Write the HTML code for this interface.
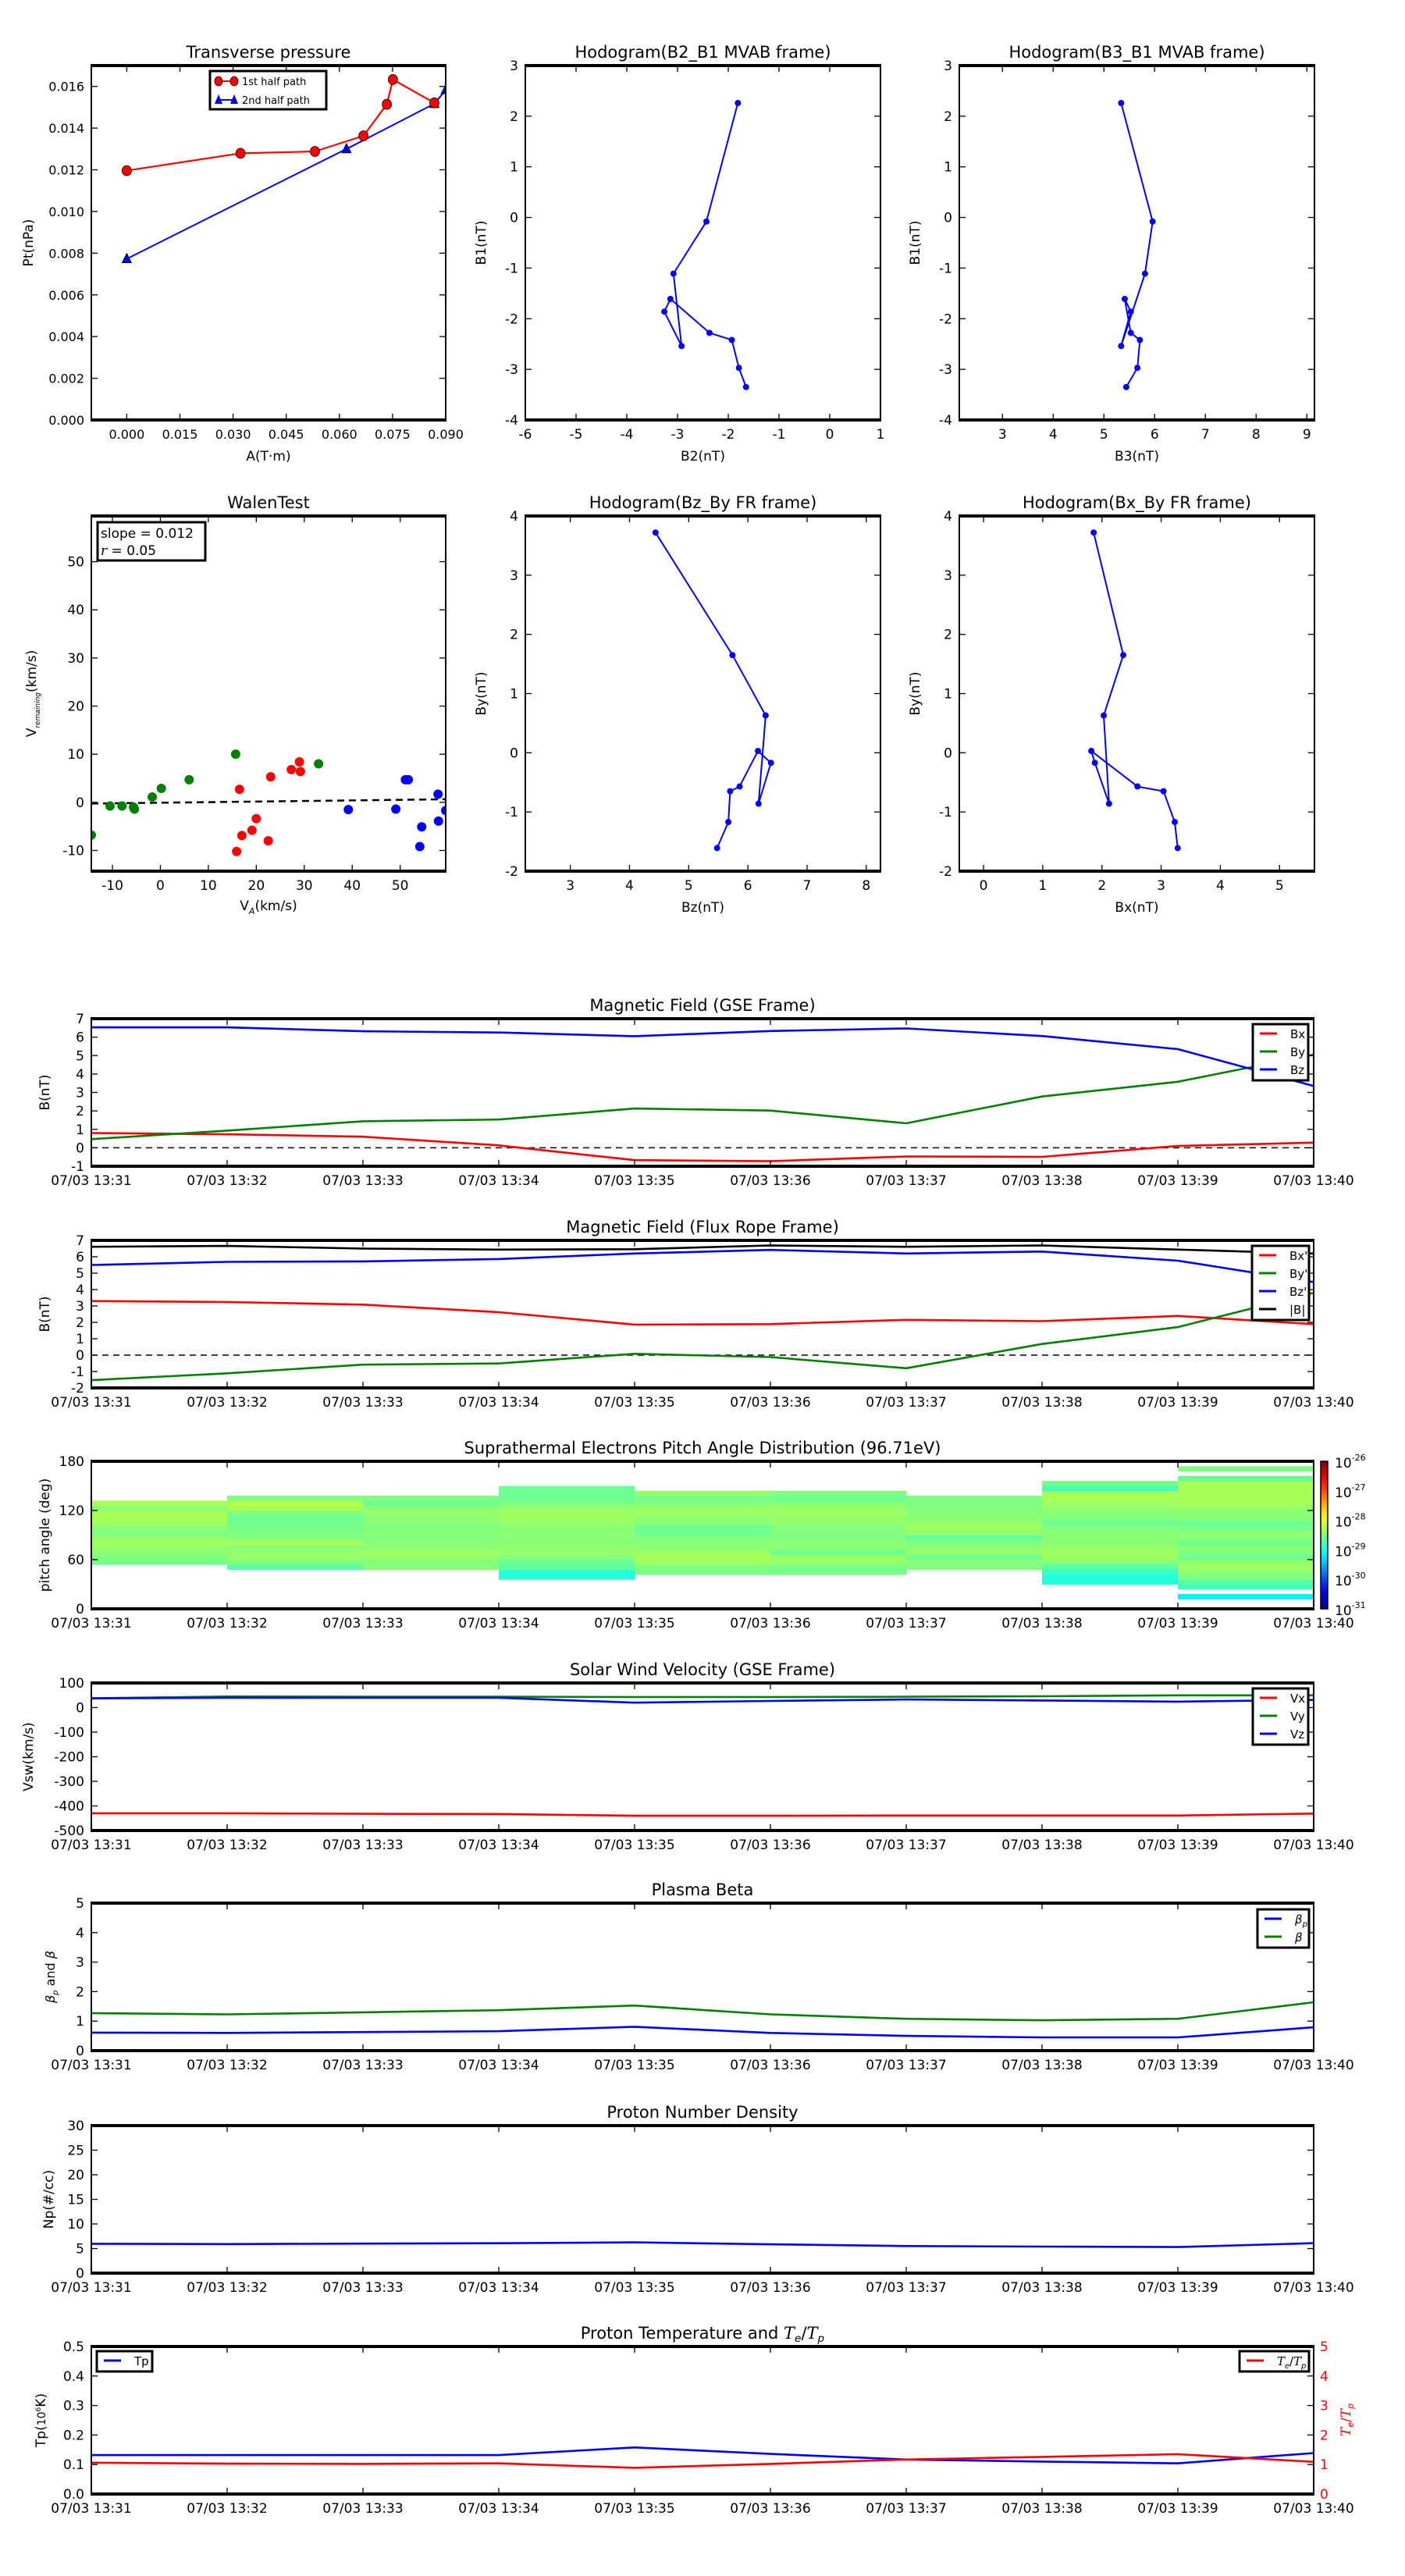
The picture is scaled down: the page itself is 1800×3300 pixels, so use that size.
<!DOCTYPE html>
<html><head><meta charset="utf-8"><title>Flux rope analysis</title>
<style>
html,body{margin:0;padding:0;background:#fff;}
svg{display:block;font-family:"DejaVu Sans","Liberation Sans",sans-serif;}
</style></head>
<body>
<svg id="chart" xmlns="http://www.w3.org/2000/svg" width="1800" height="3300" viewBox="0 0 1800 3300">
<rect x="0" y="0" width="1800" height="3300" fill="#ffffff"/>
</svg>
<script>
// ---------- data ----------
const ptRedA = [0.0, 0.0321, 0.0531, 0.0668, 0.0734, 0.0751, 0.0868];
const ptRedP = [0.01196, 0.01279, 0.01288, 0.01363, 0.01514, 0.01633, 0.01521];
const ptBlueA = [0.0, 0.0620, 0.0868, 0.0900];
const ptBlueP = [0.00773, 0.0130, 0.01517, 0.01583];

const mvB1 = [2.26, -0.08, -1.11, -2.54, -1.86, -1.61, -2.28, -2.42, -2.97, -3.35];
const mvB2 = [-1.81, -2.43, -3.08, -2.92, -3.26, -3.14, -2.37, -1.93, -1.79, -1.65];
const mvB3 = [5.34, 5.96, 5.81, 5.34, 5.53, 5.41, 5.53, 5.71, 5.66, 5.44];

const walenGreenX = [-14.4, -10.5, -8.0, -5.4, -5.6, -1.7, 0.2, 6.0, 15.7, 33.0];
const walenGreenY = [-6.8, -0.75, -0.75, -1.4, -1.0, 1.1, 2.9, 4.7, 10.0, 8.0];
const walenRedX = [16.5, 15.9, 17.0, 19.1, 20.0, 22.5, 23.0, 27.3, 29.0, 29.2];
const walenRedY = [2.7, -10.2, -6.9, -5.8, -3.4, -8.0, 5.3, 6.8, 8.4, 6.4];
const walenBlueX = [39.2, 49.1, 51.1, 51.7, 54.5, 54.1, 57.9, 58.0, 59.5];
const walenBlueY = [-1.5, -1.4, 4.7, 4.7, -5.1, -9.2, 1.7, -3.9, -1.7];
const walenSlope = 0.012;
const walenIntercept = -0.08;

const frBy = [3.72, 1.65, 0.63, -0.86, -0.17, 0.03, -0.57, -0.65, -1.17, -1.61];
const frBz = [4.44, 5.74, 6.30, 6.18, 6.39, 6.17, 5.86, 5.70, 5.67, 5.48];
const frBx = [1.86, 2.36, 2.03, 2.12, 1.88, 1.82, 2.60, 3.04, 3.23, 3.28];

const timeLabels = ['07/03 13:31','07/03 13:32','07/03 13:33','07/03 13:34','07/03 13:35','07/03 13:36','07/03 13:37','07/03 13:38','07/03 13:39','07/03 13:40'];
const gseBx = [0.80, 0.73, 0.60, 0.13, -0.67, -0.73, -0.47, -0.49, 0.10, 0.28];
const gseBy = [0.47, 0.93, 1.44, 1.53, 2.13, 2.02, 1.33, 2.78, 3.58, 5.05];
const gseBz = [6.53, 6.53, 6.32, 6.25, 6.05, 6.33, 6.47, 6.06, 5.35, 3.35];
const frpBx = [3.30, 3.24, 3.08, 2.62, 1.86, 1.89, 2.15, 2.07, 2.39, 1.89];
const frpBy = [-1.53, -1.11, -0.58, -0.51, 0.08, -0.12, -0.80, 0.68, 1.71, 3.80];
const frpBz = [5.50, 5.69, 5.72, 5.86, 6.20, 6.42, 6.20, 6.32, 5.76, 4.45];
const frpBt = [6.61, 6.66, 6.50, 6.44, 6.46, 6.69, 6.61, 6.69, 6.44, 6.20];

const padStartBin = [9, 8, 8, 6, 7, 7, 8, 5, 2];
const padCol1 = [-28.55,-28.5,-28.45,-28.4,-28.35,-28.4,-28.5,-28.45,-28.35,-28.3,-28.3,-28.45,-28.3];
const padCol2 = [-28.7,-28.5,-28.4,-28.4,-28.45,-28.3,-28.5,-28.5,-28.55,-28.55,-28.6,-28.5,-28.3,-28.25,-28.5];
const padCol3 = [-28.45,-28.5,-28.4,-28.35,-28.45,-28.45,-28.5,-28.45,-28.5,-28.45,-28.45,-28.4,-28.45,-28.6,-28.5];
const padCol4 = [-28.95,-28.95,-28.65,-28.6,-28.5,-28.4,-28.4,-28.45,-28.45,-28.45,-28.45,-28.4,-28.35,-28.35,-28.4,-28.5,-28.6,-28.6,-28.6];
const padCol5 = [-28.55,-28.5,-28.35,-28.3,-28.35,-28.45,-28.45,-28.5,-28.6,-28.6,-28.45,-28.45,-28.35,-28.4,-28.5,-28.55,-28.4];
const padCol6 = [-28.55,-28.55,-28.4,-28.35,-28.6,-28.45,-28.45,-28.5,-28.5,-28.5,-28.4,-28.4,-28.35,-28.4,-28.45,-28.6,-28.5];
const padCol7 = [-28.5,-28.45,-28.6,-28.4,-28.45,-28.5,-28.65,-28.4,-28.35,-28.4,-28.45,-28.45,-28.5,-28.5,-28.5];
const padCol8 = [-28.95,-28.95,-28.85,-28.7,-28.5,-28.35,-28.35,-28.4,-28.45,-28.45,-28.45,-28.5,-28.6,-28.5,-28.45,-28.4,-28.35,-28.3,-28.3,-28.8,-28.55];
const padCol9 = [-29.2,null,-28.8,-28.7,-28.5,-28.45,-28.35,-28.4,-28.6,-28.5,-28.45,-28.6,-28.45,-28.45,-28.55,-28.6,-28.45,-28.45,-28.4,-28.3,-28.3,-28.3,-28.3,-28.3,-28.6,null,-28.5];
const padBinDeg = 6;
const padCbLabels = ['-26','-27','-28','-29','-30','-31'];

const vswVx = [-430, -430, -432, -433, -440, -440, -439, -439, -439, -431];
const vswVy = [38, 45, 44, 44, 43, 43, 44, 46, 50, 50];
const vswVz = [37, 40, 40, 40, 20, 27, 33, 29, 24, 31];
const betaP = [0.61, 0.60, 0.63, 0.66, 0.81, 0.60, 0.50, 0.45, 0.45, 0.79];
const betaT = [1.27, 1.23, 1.30, 1.37, 1.53, 1.23, 1.08, 1.03, 1.08, 1.64];
const npVals = [5.97, 5.9, 6.0, 6.08, 6.25, 5.85, 5.5, 5.4, 5.3, 6.1];
const tpVals = [0.132, 0.132, 0.132, 0.132, 0.158, 0.136, 0.117, 0.110, 0.104, 0.139];
const teTpVals = [1.06, 1.03, 1.02, 1.04, 0.89, 1.02, 1.17, 1.26, 1.35, 1.09];

// ---------- helpers ----------
const NS = 'http://www.w3.org/2000/svg';
const svg = document.getElementById('chart');
let clipCount = 0;
function mk(tag, attrs, name, parent) {
  const e = document.createElementNS(NS, tag);
  for (const k in attrs) e.setAttribute(k, attrs[k]);
  
  
  (parent || svg).appendChild(e);
  return e;
}
function txt(x, y, s, size, anchor, name, parent, extra) {
  const a = {x: x, y: y, 'font-size': size, 'text-anchor': anchor || 'middle', fill: '#000'};
  if (extra) for (const k in extra) a[k] = extra[k];
  const t = mk('text', a, name, parent);
  t.textContent = s;
  return t;
}
function span(parent, s, attrs, name) {
  const e = document.createElementNS(NS, 'tspan');
  for (const k in attrs) e.setAttribute(k, attrs[k]);
  e.textContent = s;
  
  
  parent.appendChild(e);
  return e;
}
// italic "T_e/T_p"
function teTp(t, size) {
  span(t, 'T', {'font-style': 'italic', 'font-family': 'DejaVu Serif, Liberation Serif, serif'}, 'math-t');
  span(t, 'e', {'font-style': 'italic', 'font-size': size * 0.65, dy: 4}, 'math-sub-e');
  span(t, '/', {dy: -4}, 'math-slash');
  span(t, 'T', {'font-style': 'italic', 'font-family': 'DejaVu Serif, Liberation Serif, serif'}, 'math-t');
  span(t, 'p', {'font-style': 'italic', 'font-size': size * 0.65, dy: 4}, 'math-sub-p');
}
function pts(xs, ys, sx, sy) {
  return xs.map((v, i) => sx(v).toFixed(1) + ',' + sy(ys[i]).toFixed(1)).join(' ');
}
function axes(o) {
  const g = mk('g', {}, o.name);
  const sx = v => o.x + (v - o.xmin) / (o.xmax - o.xmin) * o.w;
  const sy = v => o.y + o.h - (v - o.ymin) / (o.ymax - o.ymin) * o.h;
  mk('rect', {x: o.x, y: o.y, width: o.w, height: o.h, fill: '#fff'}, o.name + '-plot-area', g);
  const cid = 'clip' + (clipCount++);
  const cp = mk('clipPath', {id: cid}, o.name + '-clip', g);
  mk('rect', {x: o.x, y: o.y, width: o.w, height: o.h}, o.name + '-clip-rect', cp);
  const data = mk('g', {'clip-path': 'url(#' + cid + ')'}, o.name + '-data', g);
  const fr = mk('g', {}, o.name + '-axes', g);
  const B = o.y + o.h;
  o.xticks.forEach((t, i) => {
    const X = sx(t);
    mk('line', {x1: X, y1: B, x2: X, y2: B - 8, stroke: '#000', 'stroke-width': 1.3}, 'x-tick', fr);
    mk('line', {x1: X, y1: o.y, x2: X, y2: o.y + 8, stroke: '#000', 'stroke-width': 1.3}, 'x-tick-top', fr);
    txt(X, B + 24, o.xlabels[i], o.tickSize || 17, 'middle', 'x-tick-label', fr);
  });
  o.yticks.forEach((t, i) => {
    const Y = sy(t);
    mk('line', {x1: o.x, y1: Y, x2: o.x + 8, y2: Y, stroke: '#000', 'stroke-width': 1.3}, 'y-tick', fr);
    if (!o.noRightTicks) mk('line', {x1: o.x + o.w, y1: Y, x2: o.x + o.w - 8, y2: Y, stroke: '#000', 'stroke-width': 1.3}, 'y-tick-right', fr);
    txt(o.x - 9, Y + 6, o.ylabels[i], o.tickSize || 17, 'end', 'y-tick-label', fr);
  });
  mk('line', {x1: o.x, y1: o.y, x2: o.x, y2: B, stroke: '#000', 'stroke-width': 2}, 'left-spine', fr);
  mk('line', {x1: o.x + o.w, y1: o.y, x2: o.x + o.w, y2: B, stroke: '#000', 'stroke-width': 2}, 'right-spine', fr);
  mk('line', {x1: o.x - 1, y1: o.y, x2: o.x + o.w + 1, y2: o.y, stroke: '#000', 'stroke-width': 4}, 'top-spine', fr);
  mk('line', {x1: o.x - 1, y1: B, x2: o.x + o.w + 1, y2: B, stroke: '#000', 'stroke-width': 4}, 'bottom-spine', fr);
  if (o.title) txt(o.x + o.w / 2, o.y - 10, o.title, 21, 'middle', 'chart-title', g);
  if (o.xlabel) txt(o.x + o.w / 2, B + 52, o.xlabel, 17, 'middle', 'x-axis-title', g);
  if (o.ylabel) txt(o.ylabelX, o.y + o.h / 2, o.ylabel, 17, 'middle', 'y-axis-title', g, {transform: 'rotate(-90 ' + o.ylabelX + ' ' + (o.y + o.h / 2) + ')'});
  return {sx, sy, data, g, fr};
}
function range(a, b, s) { const r = []; for (let v = a; v <= b + 1e-9; v += s) r.push(+v.toFixed(6)); return r; }
function legend(x, y, w, entries, parent, name) {
  const h = 12 + 23 * (entries.length - 1) + 14;
  mk('rect', {x: x, y: y, width: w, height: h, fill: '#fff', stroke: '#000', 'stroke-width': 3}, name, parent);
  entries.forEach((e, i) => {
    const cy = y + 12 + i * 23;
    mk('line', {x1: x + 9, y1: cy, x2: x + 31, y2: cy, stroke: e.color, 'stroke-width': 3}, 'legend-swatch', parent);
    const t = txt(x + 48, cy + 6, e.label, 15, 'start', 'legend-entry', parent);
    if (e.math === 'tetp') { t.textContent = ''; teTp(t, 15); }
    if (e.math === 'betap') { t.textContent = ''; span(t, 'β', {'font-style': 'italic'}, 'math-beta'); span(t, 'p', {'font-style': 'italic', 'font-size': 10, dy: 4}, 'math-sub-p'); }
    if (e.math === 'beta') { t.setAttribute('font-style', 'italic'); }
  });
}
function series(ax, xs, ys, color, name, width) {
  mk('polyline', {points: pts(xs, ys, ax.sx, ax.sy), fill: 'none', stroke: color, 'stroke-width': width || 2.6, 'stroke-linejoin': 'round'}, name, ax.data);
}
function dots(ax, xs, ys, color, r, name) {
  xs.forEach((v, i) => mk('circle', {cx: ax.sx(v), cy: ax.sy(ys[i]), r: r, fill: color, stroke: color}, name, ax.data));
}

// ---------- row 1 ----------
const R1Y = 84, R1H = 454, R2Y = 661, R2H = 455;
const ptAx = axes({name: 'transverse-pressure-chart', x: 117, y: R1Y, w: 454, h: R1H, xmin: -0.01, xmax: 0.09, ymin: 0, ymax: 0.017,
  xticks: range(0, 0.09, 0.015), xlabels: range(0, 0.09, 0.015).map(v => v.toFixed(3)),
  yticks: range(0, 0.016, 0.002), ylabels: range(0, 0.016, 0.002).map(v => v.toFixed(3)),
  title: 'Transverse pressure', xlabel: 'A(T·m)', ylabel: 'Pt(nPa)', ylabelX: 42, tickSize: 16});
series(ptAx, ptRedA, ptRedP, '#ff0000', 'first-half-path-line', 2.2);
series(ptAx, ptBlueA, ptBlueP, '#0000ff', 'second-half-path-line', 2);
ptBlueA.forEach((v, i) => {
  const X = ptAx.sx(v), Y = ptAx.sy(ptBlueP[i]);
  mk('polygon', {points: (X) + ',' + (Y - 7) + ' ' + (X - 6) + ',' + (Y + 5) + ' ' + (X + 6) + ',' + (Y + 5), fill: '#0000ff', stroke: '#000', 'stroke-width': 0.8}, 'second-half-marker', ptAx.data);
});
ptRedA.forEach((v, i) => mk('ellipse', {cx: ptAx.sx(v), cy: ptAx.sy(ptRedP[i]), rx: 6, ry: 6.5, fill: '#ff0000', stroke: '#000', 'stroke-width': 0.8}, 'first-half-marker', ptAx.data));
(function () {
  const L = mk('g', {}, 'pressure-legend', ptAx.g);
  mk('rect', {x: 269, y: 91, width: 149, height: 49, fill: '#fff', stroke: '#000', 'stroke-width': 3}, 'legend-box', L);
  mk('line', {x1: 280, y1: 104, x2: 300, y2: 104, stroke: '#f00', 'stroke-width': 2}, 'legend-swatch', L);
  mk('ellipse', {cx: 280, cy: 104, rx: 5, ry: 6, fill: '#f00', stroke: '#000', 'stroke-width': 0.8}, 'legend-marker', L);
  mk('ellipse', {cx: 300, cy: 104, rx: 5, ry: 6, fill: '#f00', stroke: '#000', 'stroke-width': 0.8}, 'legend-marker', L);
  txt(310, 109, '1st half path', 13, 'start', 'legend-entry', L);
  mk('line', {x1: 280, y1: 128, x2: 300, y2: 128, stroke: '#00f', 'stroke-width': 2}, 'legend-swatch', L);
  mk('polygon', {points: '280,121 275,133 285,133', fill: '#00f'}, 'legend-marker', L);
  mk('polygon', {points: '300,121 295,133 305,133', fill: '#00f'}, 'legend-marker', L);
  txt(310, 133, '2nd half path', 13, 'start', 'legend-entry', L);
})();

const h1 = axes({name: 'hodogram-b2-b1-chart', x: 673, y: R1Y, w: 455, h: R1H, xmin: -6, xmax: 1, ymin: -4, ymax: 3,
  xticks: range(-6, 1, 1), xlabels: range(-6, 1, 1).map(String), yticks: range(-4, 3, 1), ylabels: range(-4, 3, 1).map(String),
  title: 'Hodogram(B2_B1 MVAB frame)', xlabel: 'B2(nT)', ylabel: 'B1(nT)', ylabelX: 622});
series(h1, mvB2, mvB1, '#0000ff', 'hodogram-b2-b1-line', 2);
dots(h1, mvB2, mvB1, '#0000ff', 3.5, 'hodogram-b2-b1-point');

const h2 = axes({name: 'hodogram-b3-b1-chart', x: 1229, y: R1Y, w: 455, h: R1H, xmin: 2.15, xmax: 9.15, ymin: -4, ymax: 3,
  xticks: range(3, 9, 1), xlabels: range(3, 9, 1).map(String), yticks: range(-4, 3, 1), ylabels: range(-4, 3, 1).map(String),
  title: 'Hodogram(B3_B1 MVAB frame)', xlabel: 'B3(nT)', ylabel: 'B1(nT)', ylabelX: 1178});
series(h2, mvB3, mvB1, '#0000ff', 'hodogram-b3-b1-line', 2);
dots(h2, mvB3, mvB1, '#0000ff', 3.5, 'hodogram-b3-b1-point');

// ---------- row 2 ----------
const wl = axes({name: 'walen-test-chart', x: 117, y: R2Y, w: 454, h: R2H, xmin: -14.4, xmax: 59.5, ymin: -14.3, ymax: 59.5,
  xticks: range(-10, 50, 10), xlabels: range(-10, 50, 10).map(String), yticks: range(-10, 50, 10), ylabels: range(-10, 50, 10).map(String),
  title: 'WalenTest', ylabelX: 46});
(function () {
  const t = txt(344, R2Y + R2H + 50, '', 17, 'middle', 'x-axis-title', wl.g);
  span(t, 'V', {}, 'x-title-v');
  span(t, 'A', {'font-size': 11, 'font-style': 'italic', dy: 5}, 'x-title-subscript');
  span(t, '(km/s)', {dy: -5}, 'x-title-unit');
  const cy = R2Y + R2H / 2;
  const yl = txt(46, cy, '', 17, 'middle', 'y-axis-title', wl.g, {transform: 'rotate(-90 46 ' + cy + ')'});
  span(yl, 'V', {}, 'y-title-v');
  span(yl, 'remaining', {'font-size': 9, 'font-style': 'italic', dy: 5}, 'y-title-subscript');
  span(yl, '(km/s)', {dy: -5}, 'y-title-unit');
})();
mk('line', {x1: wl.sx(-14.4), y1: wl.sy(walenSlope * -14.4 + walenIntercept), x2: wl.sx(59.5), y2: wl.sy(walenSlope * 59.5 + walenIntercept), stroke: '#000', 'stroke-width': 2.5, 'stroke-dasharray': '9,6'}, 'walen-fit-line', wl.data);
dots(wl, walenGreenX, walenGreenY, '#008000', 5.5, 'walen-green-point');
dots(wl, walenRedX, walenRedY, '#ff0000', 5.5, 'walen-red-point');
dots(wl, walenBlueX, walenBlueY, '#0000ff', 5.5, 'walen-blue-point');
mk('rect', {x: 125, y: 669, width: 138, height: 49, fill: '#fff', stroke: '#000', 'stroke-width': 3}, 'walen-stats-box', wl.g);
txt(129, 689, 'slope = ' + walenSlope.toFixed(3), 17, 'start', 'walen-slope-text', wl.g);
(function () {
  const t = txt(129, 711, '', 17, 'start', 'walen-r-text', wl.g);
  span(t, 'r', {'font-style': 'italic', 'font-family': 'DejaVu Serif, serif'}, 'r-symbol');
  span(t, ' = 0.05', {}, 'r-value');
})();

const h3 = axes({name: 'hodogram-bz-by-chart', x: 673, y: R2Y, w: 455, h: R2H, xmin: 2.24, xmax: 8.24, ymin: -2, ymax: 4,
  xticks: range(3, 8, 1), xlabels: range(3, 8, 1).map(String), yticks: range(-2, 4, 1), ylabels: range(-2, 4, 1).map(String),
  title: 'Hodogram(Bz_By FR frame)', xlabel: 'Bz(nT)', ylabel: 'By(nT)', ylabelX: 622});
series(h3, frBz, frBy, '#0000ff', 'hodogram-bz-by-line', 2);
dots(h3, frBz, frBy, '#0000ff', 3.5, 'hodogram-bz-by-point');

const h4 = axes({name: 'hodogram-bx-by-chart', x: 1229, y: R2Y, w: 455, h: R2H, xmin: -0.41, xmax: 5.59, ymin: -2, ymax: 4,
  xticks: range(0, 5, 1), xlabels: range(0, 5, 1).map(String), yticks: range(-2, 4, 1), ylabels: range(-2, 4, 1).map(String),
  title: 'Hodogram(Bx_By FR frame)', xlabel: 'Bx(nT)', ylabel: 'By(nT)', ylabelX: 1178});
series(h4, frBx, frBy, '#0000ff', 'hodogram-bx-by-line', 2);
dots(h4, frBx, frBy, '#0000ff', 3.5, 'hodogram-bx-by-point');

// ---------- time series ----------
const TX = 117, TW = 1566, TH = 189;
const tIdx = timeLabels.map((_, i) => i);
function tAxes(name, y, ymin, ymax, yt, yl, title, ylabel, ylabelX) {
  return axes({name: name, x: TX, y: y, w: TW, h: TH, xmin: 0, xmax: 9, ymin: ymin, ymax: ymax,
    xticks: tIdx, xlabels: timeLabels, yticks: yt, ylabels: yl, title: title, ylabel: ylabel, ylabelX: ylabelX});
}
function zeroLine(ax) {
  mk('line', {x1: ax.sx(0), y1: ax.sy(0), x2: ax.sx(9), y2: ax.sy(0), stroke: '#000', 'stroke-width': 1.6, 'stroke-dasharray': '8,6'}, 'zero-line', ax.data);
}

const gse = tAxes('magnetic-field-gse-chart', 1305, -1, 7, range(-1, 7, 1), range(-1, 7, 1).map(String), 'Magnetic Field (GSE Frame)', 'B(nT)', 63);
zeroLine(gse);
series(gse, tIdx, gseBx, '#ff0000', 'bx-line');
series(gse, tIdx, gseBy, '#008000', 'by-line');
series(gse, tIdx, gseBz, '#0000ff', 'bz-line');
legend(1605, 1312, 71, [{label: 'Bx', color: '#f00'}, {label: 'By', color: '#008000'}, {label: 'Bz', color: '#00f'}], gse.g, 'gse-legend');

const frp = tAxes('magnetic-field-flux-rope-chart', 1589, -2, 7, range(-2, 7, 1), range(-2, 7, 1).map(String), 'Magnetic Field (Flux Rope Frame)', 'B(nT)', 63);
zeroLine(frp);
series(frp, tIdx, frpBx, '#ff0000', 'bx-prime-line');
series(frp, tIdx, frpBy, '#008000', 'by-prime-line');
series(frp, tIdx, frpBz, '#0000ff', 'bz-prime-line');
series(frp, tIdx, frpBt, '#000000', 'b-total-line');
legend(1604, 1596, 73, [{label: "Bx'", color: '#f00'}, {label: "By'", color: '#008000'}, {label: "Bz'", color: '#00f'}, {label: '|B|', color: '#000'}], frp.g, 'flux-rope-legend');

// PAD heatmap
function jet(v) {
  const t = (v + 31) / 5;
  const c = x => Math.round(255 * Math.max(0, Math.min(1, x)));
  return 'rgb(' + c(1.5 - Math.abs(4 * t - 3)) + ',' + c(1.5 - Math.abs(4 * t - 2)) + ',' + c(1.5 - Math.abs(4 * t - 1)) + ')';
}
const pad = axes({name: 'pitch-angle-distribution-chart', x: TX, y: 1872, w: TW, h: TH, xmin: 0, xmax: 9, ymin: 0, ymax: 180,
  xticks: tIdx, xlabels: timeLabels, yticks: [0, 60, 120, 180], ylabels: ['0', '60', '120', '180'],
  title: 'Suprathermal Electrons Pitch Angle Distribution (96.71eV)', ylabel: 'pitch angle (deg)', ylabelX: 63});
const padCols = [padCol1, padCol2, padCol3, padCol4, padCol5, padCol6, padCol7, padCol8, padCol9];
padCols.forEach((col, ci) => {
  col.forEach((v, bi) => {
    if (v === null) return;
    const lo = (padStartBin[ci] + bi) * padBinDeg;
    const x0 = pad.sx(ci), x1 = pad.sx(ci + 1), y0 = pad.sy(lo + padBinDeg), y1 = pad.sy(lo);
    mk('rect', {x: x0.toFixed(1), y: y0.toFixed(1), width: (x1 - x0 + 0.5).toFixed(1), height: (y1 - y0 + 0.5).toFixed(1), fill: jet(v)}, 'pad-cell', pad.data);
  });
});
pad.g.appendChild(pad.fr);
(function () {
  const defs = mk('defs', {}, 'colorbar-defs');
  const lg = mk('linearGradient', {id: 'jetgrad', x1: 0, y1: 1, x2: 0, y2: 0}, 'jet-gradient', defs);
  for (let i = 0; i <= 20; i++) mk('stop', {offset: (i / 20), 'stop-color': jet(-31 + 5 * i / 20)}, 'gradient-stop', lg);
  const cb = mk('g', {}, 'colorbar');
  mk('rect', {x: 1692, y: 1872, width: 9, height: 189, fill: 'url(#jetgrad)', stroke: '#000', 'stroke-width': 1.5}, 'colorbar-scale', cb);
  padCbLabels.forEach((s, i) => {
    const Y = 1872 + i * 37.8;
    const t = txt(1710, Y + 8, '10', 17, 'start', 'colorbar-tick-label', cb);
    span(t, s, {'font-size': 11, dy: -9}, 'colorbar-exponent');
  });
})();

const vsw = tAxes('solar-wind-velocity-chart', 2156, -500, 100, range(-500, 100, 100), range(-500, 100, 100).map(String), 'Solar Wind Velocity (GSE Frame)', 'Vsw(km/s)', 42);
series(vsw, tIdx, vswVx, '#ff0000', 'vx-line');
series(vsw, tIdx, vswVy, '#008000', 'vy-line');
series(vsw, tIdx, vswVz, '#0000ff', 'vz-line');
legend(1605, 2163, 71, [{label: 'Vx', color: '#f00'}, {label: 'Vy', color: '#008000'}, {label: 'Vz', color: '#00f'}], vsw.g, 'velocity-legend');

const beta = tAxes('plasma-beta-chart', 2438, 0, 5, range(0, 5, 1), range(0, 5, 1).map(String), 'Plasma Beta', '', 72);
(function () {
  const cy = 2438 + TH / 2;
  const t = txt(70, cy, '', 16, 'middle', 'y-axis-title', beta.g, {transform: 'rotate(-90 70 ' + cy + ')'});
  span(t, 'β', {'font-style': 'italic'}, 'math-beta');
  span(t, 'p', {'font-style': 'italic', 'font-size': 10, dy: 4}, 'math-sub-p');
  span(t, ' and ', {dy: -4}, 'math-and');
  span(t, 'β', {'font-style': 'italic'}, 'math-beta');
})();
series(beta, tIdx, betaP, '#0000ff', 'beta-proton-line');
series(beta, tIdx, betaT, '#008000', 'beta-total-line');
legend(1611, 2446, 66, [{label: 'βp', color: '#00f', math: 'betap'}, {label: 'β', color: '#008000', math: 'beta'}], beta.g, 'beta-legend');

const np = tAxes('proton-density-chart', 2723, 0, 30, range(0, 30, 5), range(0, 30, 5).map(String), 'Proton Number Density', 'Np(#/cc)', 68);
series(np, tIdx, npVals, '#0000ff', 'proton-density-line');

const tp = axes({name: 'proton-temperature-chart', x: TX, y: 3006, w: TW, h: TH, xmin: 0, xmax: 9, ymin: 0, ymax: 0.5,
  xticks: tIdx, xlabels: timeLabels, yticks: range(0, 0.5, 0.1), ylabels: range(0, 0.5, 0.1).map(v => v.toFixed(1)),
  title: '', ylabel: '', ylabelX: 56, noRightTicks: true});
(function () {
  const t = txt(TX + TW / 2, 2996, 'Proton Temperature and ', 21, 'middle', 'chart-title', tp.g);
  teTp(t, 21);
  const cy = 3006 + TH / 2;
  const yl = txt(58, cy, 'Tp(', 17, 'middle', 'y-axis-title', tp.g, {transform: 'rotate(-90 58 ' + cy + ')'});
  span(yl, '10', {'font-size': 14}, 'y-title-ten');
  span(yl, '6', {'font-size': 9, dy: -6}, 'y-title-exp');
  span(yl, 'K)', {dy: 6}, 'y-title-unit');
})();
const syR = v => 3006 + TH - v / 5 * TH;
series(tp, tIdx, tpVals, '#0000ff', 'proton-temperature-line');
mk('polyline', {points: tIdx.map((v, i) => tp.sx(v).toFixed(1) + ',' + syR(teTpVals[i]).toFixed(1)).join(' '), fill: 'none', stroke: '#ff0000', 'stroke-width': 2.6}, 'te-tp-ratio-line', tp.data);
(function () {
  const ra = mk('g', {}, 'right-y-axis', tp.g);
  [0, 1, 2, 3, 4, 5].forEach(v => {
    const Y = syR(v);
    mk('line', {x1: TX + TW, y1: Y, x2: TX + TW - 8, y2: Y, stroke: '#000', 'stroke-width': 1.3}, 'right-y-tick', ra);
    txt(TX + TW + 8, Y + 6, String(v), 17, 'start', 'right-y-tick-label', ra, {fill: '#ff0000'});
  });
  const t = txt(1730, 3100, '', 17, 'middle', 'right-y-axis-title', ra, {fill: '#ff0000', transform: 'rotate(-90 1730 3100)'});
  teTp(t, 17);
})();
legend(124, 3012, 71, [{label: 'Tp', color: '#00f'}], tp.g, 'tp-legend');
legend(1588, 3012, 89, [{label: 'Te/Tp', color: '#f00', math: 'tetp'}], tp.g, 'te-tp-legend');
</script>
</body></html>
